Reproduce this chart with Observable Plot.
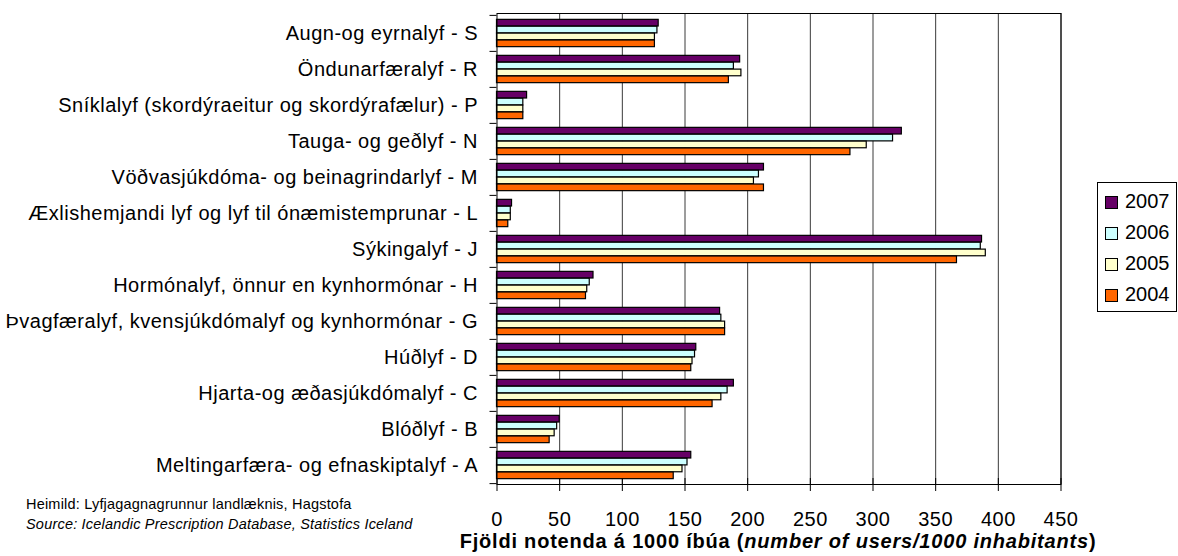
<!DOCTYPE html>
<html>
<head>
<meta charset="utf-8">
<script src="https://cdn.jsdelivr.net/npm/d3@7"></script>
<script src="https://cdn.jsdelivr.net/npm/@observablehq/plot@0.6"></script>
<style>
  html, body { margin: 0; padding: 0; background: #fff; }
  #wrap { position: relative; width: 1178px; height: 556px; font-family: "Liberation Sans", Arial, sans-serif; }
  #chart { position: absolute; left: 0; top: 0; }
  #legend { position: absolute; left: 1097px; top: 182px; width: 80px; height: 130px; border: 1px solid #000; box-sizing: border-box; background: #fff; }
  .li { position: absolute; left: 7px; font-size: 20px; line-height: 20px; color: #000; }
  .sw { display: inline-block; width: 11px; height: 11px; border: 1px solid #000; margin-right: 7px; vertical-align: -1px; }
  #src { position: absolute; left: 26px; top: 494px; font-size: 14.5px; letter-spacing: 0.2px; line-height: 20px; color: #000; }
  #xtitle { position: absolute; left: 378px; width: 800px; top: 530px; text-align: center; font-size: 20px; letter-spacing: 0.8px; font-weight: bold; color: #000; white-space: nowrap; }
</style>
</head>
<body>
<div id="wrap">
  <div id="chart"></div>
  <div id="legend"></div>
  <div id="src">Heimild: Lyfjagagnagrunnur landlæknis, Hagstofa<br><i>Source: Icelandic Prescription Database, Statistics Iceland</i></div>
  <div id="xtitle">Fjöldi notenda á 1000 íbúa (<i>number of users/1000 inhabitants</i>)</div>
</div>
<script>
const categories = [
  "Augn-og eyrnalyf - S",
  "Öndunarfæralyf - R",
  "Sníklalyf (skordýraeitur og skordýrafælur) - P",
  "Tauga- og geðlyf - N",
  "Vöðvasjúkdóma- og beinagrindarlyf - M",
  "Æxlishemjandi lyf og lyf til ónæmistemprunar - L",
  "Sýkingalyf - J",
  "Hormónalyf, önnur en kynhormónar - H",
  "Þvagfæralyf, kvensjúkdómalyf og kynhormónar - G",
  "Húðlyf - D",
  "Hjarta-og æðasjúkdómalyf - C",
  "Blóðlyf - B",
  "Meltingarfæra- og efnaskiptalyf - A"
];
const years = ["2007", "2006", "2005", "2004"];
const v2007 = [129, 194, 24, 323, 213, 12, 387, 77, 178, 159, 189, 50, 155];
const v2006 = [128, 189, 21, 316, 209, 11, 386, 74, 179, 158, 184, 48, 152];
const v2005 = [126, 195, 21, 295, 205, 11, 390, 72, 182, 156, 179, 46, 148];
const v2004 = [126, 185, 21, 282, 213, 9, 367, 71, 182, 155, 172, 42, 141];
const xTicks = [0, 50, 100, 150, 200, 250, 300, 350, 400, 450];
const colors = ["#660066", "#CCFFFF", "#FFFFCC", "#FF6600"];

const series = [v2007, v2006, v2005, v2004];
const W = 1178, H = 556;
const mTop = 13, mBottom = 72, mLeft = 496.5, mRight = 117.5;
const bw = (H - mTop - mBottom) / categories.length;
const barH = bw * 0.19;
const off = (bw - 4 * barH) / 2;

const marks = [];
// gridlines
marks.push(Plot.ruleX(xTicks.slice(1), {stroke: "#3a3a3a", strokeWidth: 1}));
// bars
series.forEach((vals, i) => {
  const rows = categories.map((c, j) => ({cat: c, value: vals[j]}));
  marks.push(Plot.barX(rows, {
    x: "value", y: "cat", fill: colors[i], stroke: "#000", strokeWidth: 1.2,
    insetTop: off + i * barH, insetBottom: bw - off - (i + 1) * barH
  }));
});
// frame / axes lines
marks.push(Plot.frame({stroke: "#000"}));
// category labels
marks.push(Plot.axisY({tickSize: 0, tickPadding: 19, fontSize: 20, label: null}));
// category boundary ticks
marks.push(Plot.axisY({tickSize: 7, tickFormat: () => "", label: null, dy: -bw / 2, stroke: "#000"}));
marks.push(Plot.axisY([categories[categories.length - 1]], {tickSize: 7, tickFormat: () => "", label: null, dy: bw / 2, stroke: "#000"}));
// x axis
marks.push(Plot.axisX({ticks: xTicks, tickSize: 7, tickPadding: 20, fontSize: 20, label: null, stroke: "#000"}));
marks.push(Plot.axisX({ticks: xTicks, tickSize: 6, tickFormat: () => "", label: null, dy: -6, stroke: "#000"}));

const chart = Plot.plot({
  width: W, height: H,
  marginTop: mTop, marginBottom: mBottom, marginLeft: mLeft, marginRight: mRight,
  x: {domain: [0, 450]},
  y: {domain: categories, padding: 0},
  style: {fontFamily: "'Liberation Sans', Arial, sans-serif", fontSize: "20px", letterSpacing: "0.5px", color: "#000", background: "#fff"},
  marks
});
document.getElementById("chart").appendChild(chart);

const legend = document.getElementById("legend");
years.forEach((y, i) => {
  const d = document.createElement("div");
  d.className = "li";
  d.style.top = (8 + i * 31) + "px";
  d.innerHTML = `<span class="sw" style="background:${colors[i]}"></span>${y}`;
  legend.appendChild(d);
});
</script>
</body>
</html>
